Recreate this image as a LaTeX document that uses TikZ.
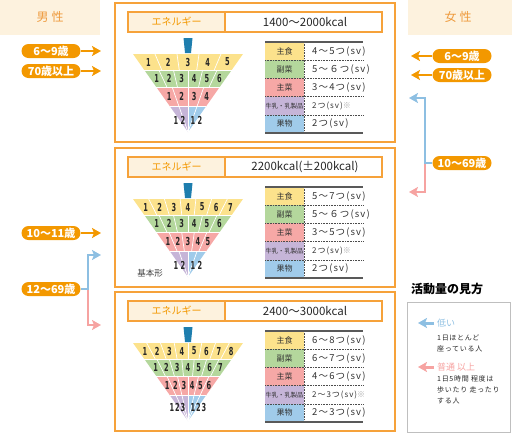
\documentclass[tikz,border=0pt]{standalone}
\usepackage{fontspec}
\setmainfont{Noto Sans CJK JP}
\newfontfamily\numfont[FakeStretch=0.6]{DejaVu Sans}
\newfontfamily\legfont[LetterSpace=10]{Noto Sans CJK JP}
\newfontfamily\valfont[LetterSpace=12]{Noto Sans CJK JP}
\usetikzlibrary{arrows.meta}

\definecolor{pillorange}{HTML}{F39800}
\definecolor{panelorange}{HTML}{F6A23A}
\definecolor{beige}{HTML}{FDF2DE}
\definecolor{gendertxt}{HTML}{EE9A3C}
\definecolor{cyel}{HTML}{FCE28C}
\definecolor{cgrn}{HTML}{B4D79C}
\definecolor{cpnk}{HTML}{F6A8A6}
\definecolor{cpur}{HTML}{C6B5D8}
\definecolor{cblu}{HTML}{A0CBEA}
\definecolor{lowblue}{HTML}{8DBFE2}
\definecolor{highpink}{HTML}{F6A3A1}
\definecolor{handle}{HTML}{1E7EAE}

\tikzset{
  panelbox/.style={draw=panelorange, line width=1.4pt},
  ebar/.style={draw=panelorange, line width=1.3pt},
  elabel/.style={text=pillorange, font=\fontsize{10}{10}\selectfont},
  evalue/.style={text=black!85, font=\fontsize{11.5}{11.5}\selectfont},
  gender/.style={text=gendertxt, font=\fontsize{12}{12}\selectfont},
  pill/.style={fill=pillorange, text=white, rounded corners=7pt, minimum width=59pt,
    minimum height=14pt, inner sep=0pt, font=\bfseries\fontsize{11}{11}\selectfont},
  tipstyle/.style={-{Stealth[length=9pt,width=10pt,inset=2pt]}},
  oarrow/.style={draw=pillorange, line width=2.6pt, tipstyle},
  barrow/.style={draw=lowblue, line width=2.6pt, tipstyle},
  parrow/.style={draw=highpink, line width=2.6pt, tipstyle},
  divline/.style={draw=white, line width=0.7pt},
  pyrnum/.style={text=black!85, inner sep=0pt, font=\numfont\bfseries\fontsize{11}{11}\selectfont},
  cellname/.style={text=black!80, font=\fontsize{8}{8}\selectfont},
  cellval/.style={anchor=west, inner sep=0pt, text=black!80, font=\valfont\fontsize{9.5}{9.5}\selectfont},
  tabsep/.style={draw=black!70, line width=0.6pt, dash pattern=on 0.8pt off 0.8pt},
  tabrule/.style={draw=black!65, line width=1.2pt},
  legtext/.style={anchor=north west, align=left, inner sep=0pt, text=black!85,
    font=\legfont\fontsize{7}{11}\selectfont},
  legkey/.style={anchor=west, inner sep=0pt, font=\fontsize{9}{9}\selectfont},
}

\newcommand\kome{\textcolor{black!35}{※}}

% frame and energy bar of one panel
\newcommand\panelframe[2]{%
  \draw[panelbox] (115,3) rectangle (395,142);
  \draw[ebar, fill=beige] (128,12) rectangle (225,32);
  \draw[ebar] (225,12) rectangle (382,32);
  \node[elabel] (#1e) at (176.5,22) {エネルギー};
  \node[evalue] (#1ev) at (305,22) {#2};
}

% koma body
\newcommand\pyrbase{%
  \fill[handle] (183.5,38) -- (192.5,38) -- (191,53) -- (185,53) -- cycle;
  \fill[cyel] (133,54) -- (243,54) -- (231.72,70) -- (144.28,70) -- cycle;
  \fill[cgrn] (144.28,70) -- (231.72,70) -- (219.73,87) -- (156.27,87) -- cycle;
  \fill[cpnk] (156.27,87) -- (219.73,87) -- (206.33,106) -- (169.67,106) -- cycle;
  \fill[cpur] (169.67,106) -- (188,106) -- (188,132) -- cycle;
  \fill[cblu] (188,106) -- (206.33,106) -- (188,132) -- cycle;
  \draw[divline] (144.28,70) -- (231.72,70) (156.27,87) -- (219.73,87) (169.67,106) -- (206.33,106);
}

% one row of the koma: top, bottom, cells, prefix
\newcommand\pyrrow[4]{%
  \pgfmathtruncatemacro\pyrm{#3-1}%
  \foreach \i in {1,...,\pyrm}{%
    \draw[divline] ({188+(2*\i/#3-1)*55*(132-#1)/78},#1) -- ({188+(2*\i/#3-1)*55*(132-#2)/78},#2);}%
  \foreach \i in {1,...,#3}{%
    \node[pyrnum] (#4\i) at ({188+(2*(\i-0.5)/#3-1)*55*(132-(#1+#2)/2)/78},{(#1+#2)/2}) {\i};}%
}

\newcommand\pyrtip[1]{%
  \pgfmathtruncatemacro\pyrm{#1-1}%
  \foreach \i in {1,...,\pyrm}{%
    \draw[divline] ({188+(2*\i/#1-1)*18.33},106) -- (188,132);}%
}

% table of servings
\newcommand\foodtable[6]{%
  \fill[cyel] (265,42) rectangle (304,60.2);
  \fill[cgrn] (265,60.2) rectangle (304,78.4);
  \fill[cpnk] (265,78.4) rectangle (304,96.6);
  \fill[cpur] (265,96.6) rectangle (304,114.8);
  \fill[cblu] (265,114.8) rectangle (304,133);
  \foreach \y in {60.2,78.4,96.6,114.8} \draw[tabsep] (265,\y) -- (363,\y);
  \draw[tabsep] (304.5,42) -- (304.5,133);
  \draw[tabrule] (265,42) -- (363,42) (265,133) -- (363,133);
  \node[cellname] (#1n1) at (284.5,51.1) {主食};
  \node[cellname] (#1n2) at (284.5,69.3) {副菜};
  \node[cellname] (#1n3) at (284.5,87.5) {主菜};
  \node[cellname, font=\fontsize{6.3}{6.3}\selectfont] (#1n4) at (284.5,105.7) {牛乳・乳製品};
  \node[cellname] (#1n5) at (284.5,123.9) {果物};
  \node[cellval] (#1v1) at (312,51.1) {#2};
  \node[cellval] (#1v2) at (312,69.3) {#3};
  \node[cellval] (#1v3) at (312,87.5) {#4};
  \node[cellval, font=\valfont\fontsize{8}{8}\selectfont] (#1v4) at (312,105.7) {#5};
  \node[cellval] (#1v5) at (312,123.9) {#6};
}

\begin{document}
\begin{tikzpicture}[x=1pt,y=-1pt]
\useasboundingbox (0,0) rectangle (512,437);

% headers
\fill[beige] (0,0) rectangle (100,35);
\node[gender] (male) at (50,17) {男\kern3pt 性};
\fill[beige] (408,0) rectangle (512,35);
\node[gender] (female) at (458,17) {女\kern3pt 性};

% panel 1
\panelframe{pa-}{1400〜2000kcal}
\pyrbase
\pyrrow{54}{70}{5}{pa-r1-}
\pyrrow{70}{87}{6}{pa-r2-}
\pyrrow{87}{106}{4}{pa-r3-}
\pyrtip{4}
\foreach \x/\t [count=\k] in {176/1,183/2,193/1,200/2}
  \node[pyrnum] (pa-r4-\k) at (\x,120) {\t};
\foodtable{pa-}{4〜5つ(sv)}{5〜６つ(sv)}{3〜4つ(sv)}{2つ(sv)\kome}{2つ(sv)}

% panel 2
\begin{scope}[shift={(0,145)}]
\panelframe{pb-}{2200kcal(±200kcal)}
\pyrbase
\pyrrow{54}{70}{7}{pb-r1-}
\pyrrow{70}{87}{6}{pb-r2-}
\pyrrow{87}{106}{5}{pb-r3-}
\pyrtip{4}
\foreach \x/\t [count=\k] in {176/1,183/2,193/1,200/2}
  \node[pyrnum] (pb-r4-\k) at (\x,120) {\t};
\node[text=black!75, font=\fontsize{8.5}{8.5}\selectfont] (basic) at (150,128) {基本形};
\foodtable{pb-}{5〜7つ(sv)}{5〜６つ(sv)}{3〜5つ(sv)}{2つ(sv)\kome}{2つ(sv)}
\end{scope}

% panel 3
\begin{scope}[shift={(0,289)}]
\panelframe{pc-}{2400〜3000kcal}
\pyrbase
\pyrrow{54}{70}{8}{pc-r1-}
\pyrrow{70}{87}{7}{pc-r2-}
\pyrrow{87}{106}{6}{pc-r3-}
\pyrtip{6}
\foreach \x/\t [count=\k] in {172/1,177.5/2,183/3,193/1,198.5/2,204/3}
  \node[pyrnum] (pc-r4-\k) at (\x,118) {\t};
\foodtable{pc-}{6〜8つ(sv)}{6〜7つ(sv)}{4〜6つ(sv)}{2〜3つ(sv)\kome}{2〜3つ(sv)}
\end{scope}

% men
\node[pill] (m69) at (51,51) {6〜9歳};
\node[pill] (m70) at (51,71) {70歳以上};
\node[pill] (m1011) at (51,233) {10〜11歳};
\node[pill] (m1269) at (51,289) {12〜69歳};
\coordinate (ma) at (101,51);
\coordinate (mb) at (101,71);
\coordinate (mc) at (101,233);
\coordinate (msplit) at (88,289);
\coordinate (mlow) at (101,255);
\coordinate (mhigh) at (101,325);
\draw[oarrow] (m69.east) -- (ma);
\draw[oarrow] (m70.east) -- (mb);
\draw[oarrow] (m1011.east) -- (mc);
\draw[parrow] (msplit) |- (mhigh);
\draw[barrow] (m1269.east) -- (msplit) |- (mlow);

% women
\node[pill] (f69) at (462,56) {6〜9歳};
\node[pill] (f70) at (462,75) {70歳以上};
\node[pill] (f1069) at (462,163) {10〜69歳};
\coordinate (fa) at (411,56);
\coordinate (fb) at (411,75);
\coordinate (fsplit) at (425,163);
\coordinate (flow) at (409,98);
\coordinate (fhigh) at (409,192);
\draw[oarrow] (f69.west) -- (fa);
\draw[oarrow] (f70.west) -- (fb);
\draw[parrow] (fsplit) |- (fhigh);
\draw[barrow] (f1069.west) -- (fsplit) |- (flow);

% legend
\node[font=\bfseries\fontsize{12}{12}\selectfont] (legt) at (447,289) {活動量の見方};
\draw[draw=black!25, line width=0.8pt] (407,302) rectangle (510,432);
\coordinate (lowa) at (434,323);
\coordinate (lowb) at (418,323);
\draw[barrow, line width=3pt] (lowa) -- (lowb);
\node[legkey, text=lowblue] (lowtxt) at (437,323) {低い};
\node[legtext] (lowdesc) at (437,335) {1日ほとんど\\座っている人};
\coordinate (higha) at (434,367);
\coordinate (highb) at (418,367);
\draw[parrow, line width=3pt] (higha) -- (highb);
\node[legkey, text=highpink] (hightxt) at (437,367) {普通 以上};
\node[legtext] (highdesc) at (437,375) {1日5時間 程度は\\歩いたり 走ったり\\する人};
\end{tikzpicture}
\end{document}
